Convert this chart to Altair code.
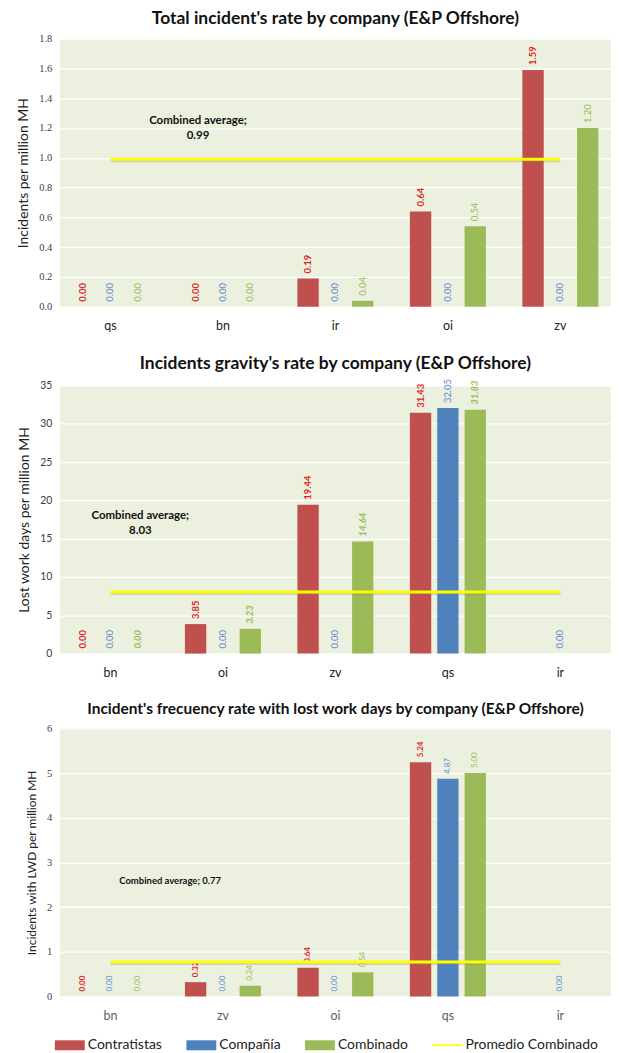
import altair as alt
import pandas as pd

SERIES = ["Contratistas", "Compañía", "Combinado"]
BAR_COLORS = ["#C0504D", "#4F81BD", "#9BBB59"]
LABEL_COLORS = ["#E0262B", "#5B8BD0", "#9BBB59"]
AVG_NAME = "Promedio Combinado"
AVG_COLOR = "#FFFF00"

# Panel 1
c1_companies = ["qs", "bn", "ir", "oi", "zv"]
c1_contr = [0.00, 0.00, 0.19, 0.64, 1.59]
c1_comp = [0.00, 0.00, 0.00, 0.00, 0.00]
c1_comb = [0.00, 0.00, 0.04, 0.54, 1.20]
c1_avg = 0.99
c1_ticks = [0.0, 0.2, 0.4, 0.6, 0.8, 1.0, 1.2, 1.4, 1.6, 1.8]

# Panel 2
c2_companies = ["bn", "oi", "zv", "qs", "ir"]
c2_contr = [0.00, 3.85, 19.44, 31.43, None]
c2_comp = [0.00, 0.00, 0.00, 32.05, 0.00]
c2_comb = [0.00, 3.23, 14.64, 31.83, None]
c2_avg = 8.03
c2_ticks = [0, 5, 10, 15, 20, 25, 30, 35]

# Panel 3
c3_companies = ["bn", "zv", "oi", "qs", "ir"]
c3_contr = [0.00, 0.32, 0.64, 5.24, None]
c3_comp = [0.00, 0.00, 0.00, 4.87, 0.00]
c3_comb = [0.00, 0.24, 0.54, 5.00, None]
c3_avg = 0.77
c3_ticks = [0, 1, 2, 3, 4, 5, 6]

FONT = "Lato"
W, H = 553, 269

LEG_DOMAIN = SERIES + [AVG_NAME]
LEG_RANGE = BAR_COLORS + [AVG_COLOR]
RECT_PATH = "M-1.5,-0.5H1.5V0.5H-1.5Z"
LINE_PATH = "M-1.5,-0.09H1.5V0.09H-1.5Z"
SHAPE_EXPR = f"datum.value === '{AVG_NAME}' ? '{LINE_PATH}' : '{RECT_PATH}'"


def panel(companies, contr, comp, comb, avg, ticks, fmt, title, title_size,
          ytitle, ytitle_size, ylabel_font, label_size, green_italic,
          ann_text, ann_cat, ann_dx, ann_y, ann_size, xlabel_color):
    rows = []
    for i, c in enumerate(companies):
        for s, vals in zip(SERIES, [contr, comp, comb]):
            v = vals[i]
            if v is not None:
                rows.append({"company": c, "series": s, "value": v,
                             "label": f"{v:.2f}"})
    df = pd.DataFrame(rows)

    x = alt.X("company:N", sort=companies,
              scale=alt.Scale(domain=companies, paddingInner=0.3,
                              paddingOuter=0.1),
              axis=alt.Axis(title=None, labelAngle=0, labelPadding=13,
                            labelFontSize=12.5, labelFont=FONT,
                            labelColor=xlabel_color, domain=False,
                            ticks=False, grid=False))
    xo = alt.XOffset("series:N", sort=SERIES,
                     scale=alt.Scale(domain=SERIES, paddingInner=0.22,
                                     paddingOuter=0.05))
    y = alt.Y("value:Q",
              scale=alt.Scale(domain=[ticks[0], ticks[-1]], nice=False),
              axis=alt.Axis(title=ytitle, values=ticks, format=fmt,
                            labelFont=ylabel_font, labelFontSize=10.5,
                            labelColor="#404040", titleFont=FONT,
                            titleFontSize=ytitle_size, titleFontWeight="normal",
                            titleColor="#222222", titlePadding=8,
                            domain=False, ticks=False, gridColor="#FFFFFF",
                            gridWidth=1.3, labelPadding=8, labelOverlap=False))

    base = alt.Chart(df)
    bars = base.mark_bar().encode(
        x=x, xOffset=xo, y=y,
        fill=alt.Fill(
            "series:N", sort=LEG_DOMAIN,
            scale=alt.Scale(domain=LEG_DOMAIN, range=LEG_RANGE),
            legend=alt.Legend(
                title=None, orient="bottom", direction="horizontal",
                symbolType=alt.ExprRef(expr=SHAPE_EXPR),
            ),
        ),
    )

    def lbl(series, weight, style):
        return base.transform_filter(alt.datum.series == series).mark_text(
            angle=270, align="left", baseline="middle", dx=5,
            fontSize=label_size, font=FONT, fontWeight=weight, fontStyle=style,
        ).encode(
            x=x, xOffset=xo, y=y, text="label:N",
            color=alt.Color("series:N",
                            scale=alt.Scale(domain=SERIES, range=LABEL_COLORS),
                            legend=None),
        )

    labels = [
        lbl("Contratistas", "bold", "normal"),
        lbl("Compañía", "normal", "normal"),
        lbl("Combinado", "bold" if green_italic else "normal",
            "italic" if green_italic else "normal"),
    ]

    avg_df = pd.DataFrame([{"company": companies[0], "company_end": companies[-1],
                            "value": avg, "name": AVG_NAME}])
    shadow = alt.Chart(avg_df).mark_rule(
        strokeWidth=3, color="#808080", opacity=0.3, yOffset=1.5
    ).encode(x=x, x2="company_end:N", y=y)
    rule = alt.Chart(avg_df).mark_rule(strokeWidth=3, color=AVG_COLOR).encode(
        x=x, x2="company_end:N", y=y,
    )

    ann_df = pd.DataFrame([{"company": ann_cat, "value": ann_y,
                            "text": ann_text}])
    ann = alt.Chart(ann_df).mark_text(
        align="center", baseline="top", fontWeight="bold", fontSize=ann_size,
        font=FONT, color="#111111", lineBreak="\n", lineHeight=15,
        dx=ann_dx,
    ).encode(x=x, y=y, text="text:N")

    return alt.layer(bars, *labels, shadow, rule, ann).properties(
        width=W, height=H,
        title=alt.TitleParams(title, fontSize=title_size, font=FONT,
                              fontWeight="bold", anchor="middle",
                              frame="group", offset=6, color="#111111"),
    )


p1 = panel(c1_companies, c1_contr, c1_comp, c1_comb, c1_avg, c1_ticks, ".1f",
           "Total incident's rate by company (E&P Offshore)", 17.5,
           "Incidents per million MH", 14, "Liberation Serif", 9.5, False,
           "Combined average;\n0.99", "bn", -25, 1.29, 11.5, "#222222")
p2 = panel(c2_companies, c2_contr, c2_comp, c2_comb, c2_avg, c2_ticks, "d",
           "Incidents gravity's rate by company (E&P Offshore)", 17.5,
           "Lost work days per million MH", 14, FONT, 9.5, True,
           "Combined average;\n8.03", "bn", 30, 18.7, 11.5, "#222222")
p3 = panel(c3_companies, c3_contr, c3_comp, c3_comb, c3_avg, c3_ticks, "d",
           "Incident's frecuency rate with lost work days by company (E&P Offshore)",
           15.5, "Incidents with LWD per  million MH", 12, "Liberation Serif",
           8, False, "Combined average; 0.77", "zv", -53, 2.7, 9.5, "#606060")

chart = alt.vconcat(p1, p2, p3, spacing=22).properties(
    padding={"left": 8, "top": 0, "right": 0, "bottom": 0},
    background="#FFFFFF",
).configure_view(
    fill="#EBF1DE", stroke=None
).configure_legend(
    labelFontSize=14, labelFont=FONT,
    labelColor="#222222", columnPadding=24, labelOffset=8,
    symbolSize=400, symbolStrokeWidth=0, offset=13,
)

chart.save("out.html", embed_options={"renderer": "svg", "actions": False})
